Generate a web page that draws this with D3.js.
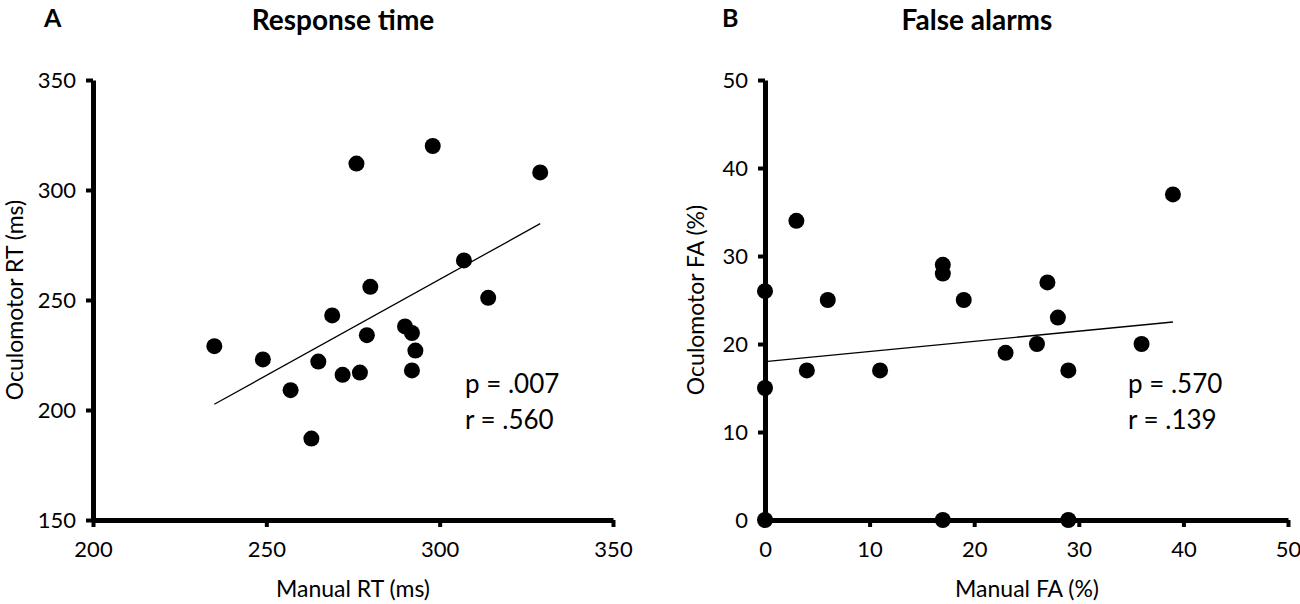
<!DOCTYPE html>
<html>
<head>
<meta charset="utf-8">
<script src="https://cdn.jsdelivr.net/npm/d3@7"></script>
<style>
  body { margin: 0; background: #fff; }
  svg text { font-family: Lato, "Open Sans", sans-serif; fill: #000; }
</style>
</head>
<body>
<div id="chart"></div>
<script>
// Panel A: response time
const rtManual = [235, 249, 257, 263, 265, 269, 272, 276, 277, 279, 280, 290, 292, 292, 293, 298, 307, 314, 329];
const rtOculo  = [229, 223, 209, 187, 222, 243, 216, 312, 217, 234, 256, 238, 235, 218, 227, 320, 268, 251, 308];
const rtFit = [[235, 202.6], [329, 284.7]];
const rtTicksX = [200, 250, 300, 350];
const rtTicksY = [150, 200, 250, 300, 350];

// Panel B: false alarms
const faManual = [0, 0, 0, 3, 4, 6, 11, 17, 17, 17, 19, 23, 26, 27, 28, 29, 29, 36, 39];
const faOculo  = [0, 15, 26, 34, 17, 25, 17, 0, 28, 29, 25, 19, 20, 27, 23, 17, 0, 20, 37];
const faFit = [[0, 18], [39, 22.5]];
const faTicksX = [0, 10, 20, 30, 40, 50];
const faTicksY = [0, 10, 20, 30, 40, 50];

const width = 1300, height = 604;

const svg = d3.select("#chart").append("svg")
    .attr("width", width)
    .attr("height", height);

function panel(opts) {
    const x = d3.scaleLinear().domain(opts.xDomain).range([opts.left, opts.right]);
    const y = d3.scaleLinear().domain(opts.yDomain).range([opts.bottom, opts.top]);
    const g = svg.append("g");

    // axes
    const xAxis = g.append("g")
        .attr("transform", "translate(0," + opts.bottom + ")")
        .call(d3.axisBottom(x).tickValues(opts.ticksX).tickSize(7).tickPadding(14).tickSizeOuter(0));
    const yAxis = g.append("g")
        .attr("transform", "translate(" + opts.left + ",0)")
        .call(d3.axisLeft(y).tickValues(opts.ticksY).tickSize(7).tickPadding(10).tickSizeOuter(0));

    [xAxis, yAxis].forEach(a => {
        a.select(".domain").attr("stroke", "#000").attr("stroke-width", 5);
        a.selectAll(".tick line").attr("stroke", "#000").attr("stroke-width", 4);
        a.selectAll(".tick text")
            .style("font-size", "22px")
            .style("font-family", "Lato, sans-serif")
            .attr("fill", "#000");
    });

    // fit line
    g.append("line")
        .attr("x1", x(opts.fit[0][0])).attr("y1", y(opts.fit[0][1]))
        .attr("x2", x(opts.fit[1][0])).attr("y2", y(opts.fit[1][1]))
        .attr("stroke", "#000")
        .attr("stroke-width", 1.3);

    // dots
    g.selectAll("circle")
        .data(d3.zip(opts.xs, opts.ys))
        .enter().append("circle")
        .attr("cx", d => x(d[0]))
        .attr("cy", d => y(d[1]))
        .attr("r", 8)
        .attr("fill", "#000");

    // titles
    g.append("text")
        .attr("x", opts.letterX).attr("y", 27)
        .style("font-size", "25px").style("font-weight", "bold")
        .text(opts.letter);
    g.append("text")
        .attr("x", opts.titleX).attr("y", 30)
        .attr("text-anchor", "middle")
        .style("font-size", "28px").style("font-weight", "bold")
        .text(opts.title);

    g.append("text")
        .attr("x", opts.xLabelX).attr("y", 597)
        .attr("text-anchor", "middle")
        .style("font-size", "23px")
        .text(opts.xLabel);
    g.append("text")
        .attr("transform", "translate(" + opts.yLabelX + "," + ((opts.top + opts.bottom) / 2) + ") rotate(-90)")
        .attr("text-anchor", "middle")
        .style("font-size", "23px")
        .text(opts.yLabel);

    // stats
    g.append("text")
        .attr("x", opts.statX).attr("y", 393)
        .style("font-size", "26px")
        .text(opts.stats[0]);
    g.append("text")
        .attr("x", opts.statX).attr("y", 429)
        .style("font-size", "26px")
        .text(opts.stats[1]);
}

panel({
    xs: rtManual, ys: rtOculo, fit: rtFit,
    xDomain: [200, 350], yDomain: [150, 350],
    ticksX: rtTicksX, ticksY: rtTicksY,
    left: 93, right: 613, top: 80, bottom: 520,
    letter: "A", letterX: 44, title: "Response time", titleX: 343,
    xLabelX: 353, xLabel: "Manual RT (ms)",
    yLabel: "Oculomotor RT (ms)", yLabelX: 23,
    stats: ["p = .007", "r = .560"], statX: 465
});

panel({
    xs: faManual, ys: faOculo, fit: faFit,
    xDomain: [0, 50], yDomain: [0, 50],
    ticksX: faTicksX, ticksY: faTicksY,
    left: 765, right: 1288, top: 80, bottom: 520,
    letter: "B", letterX: 722, title: "False alarms", titleX: 977,
    xLabelX: 1027, xLabel: "Manual FA (%)",
    yLabel: "Oculomotor FA (%)", yLabelX: 704,
    stats: ["p = .570", "r = .139"], statX: 1128
});
</script>
</body>
</html>
